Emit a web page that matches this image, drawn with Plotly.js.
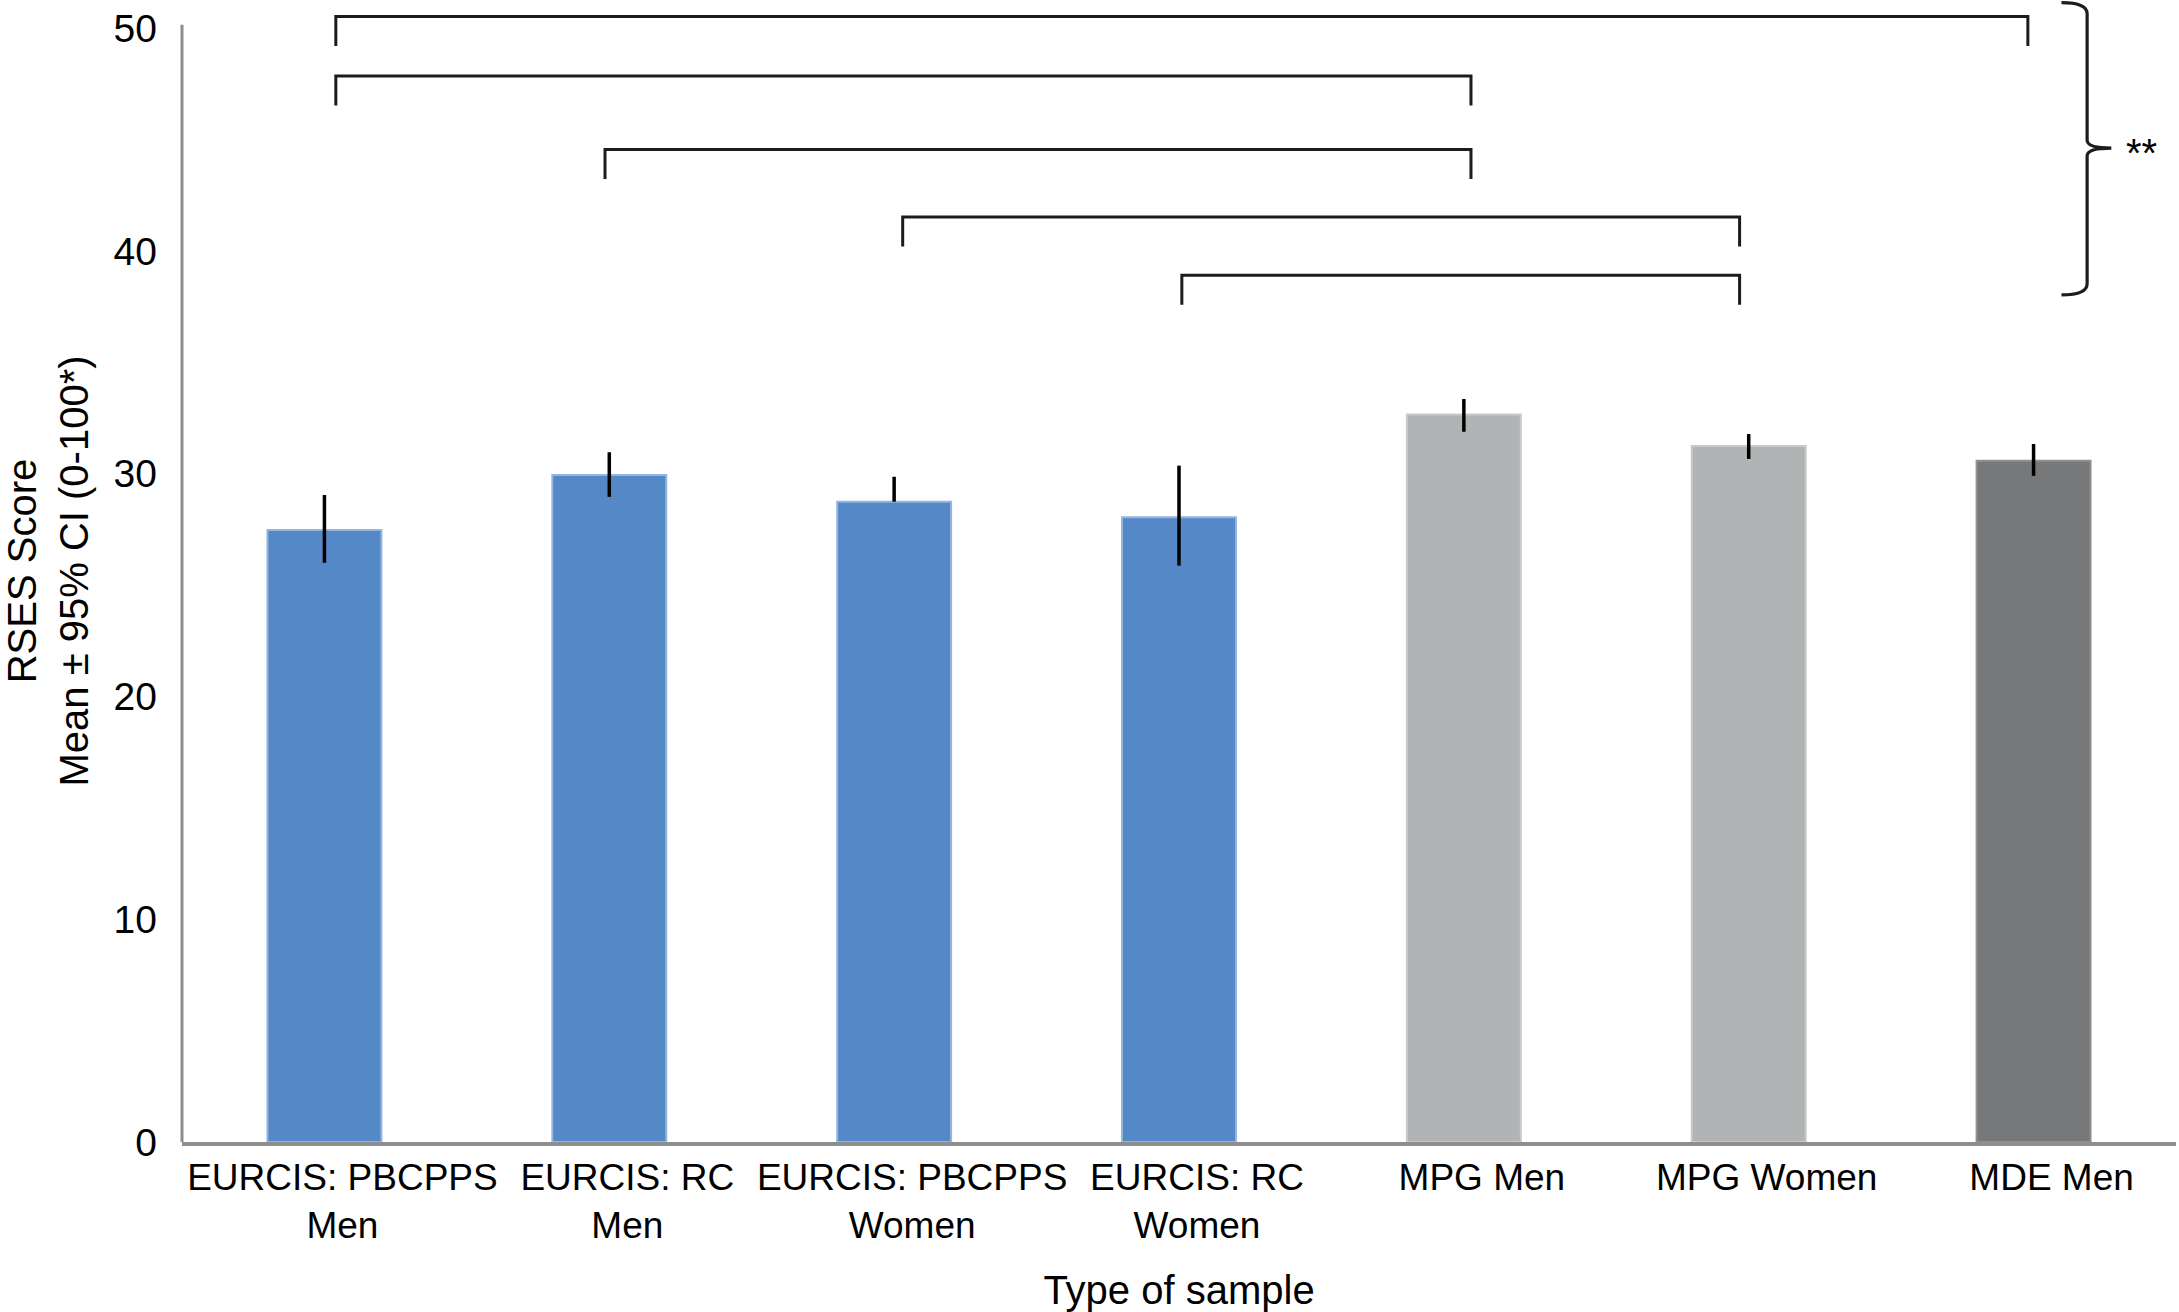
<!DOCTYPE html>
<html>
<head>
<meta charset="utf-8">
<script src="https://cdn.plot.ly/plotly-3.0.1.min.js"></script>
<style>html,body{margin:0;padding:0;background:#fff;}#chart{width:2179px;height:1312px;}</style>
</head>
<body>
<div id="chart"></div>
<script>
// ---- data ----
var categories = ['EURCIS: PBCPPS<br>Men', 'EURCIS: RC<br>Men', 'EURCIS: PBCPPS<br>Women', 'EURCIS: RC<br>Women', 'MPG Men', 'MPG Women', 'MDE Men'];
var means      = [27.47, 29.94, 28.74, 28.04, 32.66, 31.24, 30.58];
var ciPlus     = [1.57, 1.02, 1.12, 2.32, 0.69, 0.54, 0.75];
var ciMinus    = [1.47, 0.98, 0, 2.17, 0.78, 0.58, 0.68];
var yTicks     = [0, 10, 20, 30, 40, 50];
var sigPairs   = [[0, 6], [0, 4], [1, 4], [2, 5], [3, 5]];
var sigLevels  = [50.52, 47.85, 44.55, 41.52, 38.9];
var sigLabel   = '**';

// ---- styles ----
var fills = ['#5588c6', '#5588c6', '#5588c6', '#5588c6', '#b1b4b4', '#b1b4b4', '#76787a'];
var edges = ['#93b5e1', '#93b5e1', '#93b5e1', '#93b5e1', '#c8caca', '#c8caca', '#8e9091'];
var FONT = 'Liberation Sans, Arial, Helvetica, sans-serif';
// small horizontal nudges of bracket legs relative to bar centres (as drawn in the figure)
var legNudgeStart = [0.04, 0.04, -0.015, 0.03, 0.01];
var legNudgeEnd   = [-0.02, 0.025, 0.025, -0.032, -0.032];

var idx = categories.map(function (c, i) { return i; });

var trace = {
  type: 'bar',
  x: idx,
  y: means,
  width: 0.4,
  marker: { color: fills, line: { color: edges, width: 2 } },
  error_y: { type: 'data', symmetric: false, array: ciPlus, arrayminus: ciMinus, color: '#000000', thickness: 3.5, width: 0 },
  hoverinfo: 'x+y'
};

var shapes = [];
// y-axis line up to 50
shapes.push({ type: 'line', xref: 'paper', yref: 'y', x0: 0, x1: 0, y0: 0, y1: 50.15, line: { color: '#8e8e8e', width: 3 } });

// significance brackets
var legDrop = 1.32;
sigPairs.forEach(function (p, k) {
  var xa = p[0] + legNudgeStart[k], xb = p[1] + legNudgeEnd[k], yh = sigLevels[k], yl = yh - legDrop;
  shapes.push({
    type: 'path', xref: 'x', yref: 'y',
    path: 'M ' + xa + ',' + yl + ' L ' + xa + ',' + yh + ' L ' + xb + ',' + yh + ' L ' + xb + ',' + yl,
    line: { color: '#1c1c1c', width: 3 }
  });
});

// curly brace grouping all brackets
var bx = 6.188, bTop = 51.14, bBot = 38.02, bMid = 44.61, hook = 0.09, tip = 0.085;
var bracePath = 'M ' + (bx - hook) + ',' + bTop +
  ' Q ' + bx + ',' + bTop + ' ' + bx + ',' + (bTop - 0.5) +
  ' L ' + bx + ',' + (bMid + 0.35) +
  ' Q ' + bx + ',' + bMid + ' ' + (bx + tip) + ',' + bMid +
  ' Q ' + bx + ',' + bMid + ' ' + bx + ',' + (bMid - 0.35) +
  ' L ' + bx + ',' + (bBot + 0.5) +
  ' Q ' + bx + ',' + bBot + ' ' + (bx - hook) + ',' + bBot;
shapes.push({ type: 'path', xref: 'x', yref: 'y', path: bracePath, line: { color: '#1c1c1c', width: 3.2 } });

var layout = {
  width: 2179,
  height: 1312,
  margin: { l: 182, r: 3, t: 0, b: 170 },
  paper_bgcolor: '#ffffff',
  plot_bgcolor: '#ffffff',
  showlegend: false,
  bargap: 0.6,
  font: { family: FONT, color: '#000000', size: 37 },
  xaxis: {
    range: [-0.5, 6.5],
    tickmode: 'array',
    tickvals: idx,
    ticktext: categories,
    tickfont: { family: FONT, size: 37, color: '#000000' },
    ticks: '',
    ticklabelstandoff: 0,
    ticklabelshift: 18,
    showgrid: false,
    zeroline: false,
    showline: true,
    linecolor: '#8e8e8e',
    linewidth: 3.5,
    fixedrange: true,
    title: { text: 'Type of sample', font: { family: FONT, size: 40, color: '#000000' }, standoff: 36 }
  },
  yaxis: {
    range: [0, 51.26],
    tickmode: 'array',
    tickvals: yTicks,
    tickfont: { family: FONT, size: 39, color: '#000000' },
    ticks: '',
    ticklabelstandoff: 24,
    showgrid: false,
    zeroline: false,
    showline: false,
    fixedrange: true,
    title: { text: 'RSES Score<br>Mean ± 95% CI (0-100*)', font: { family: FONT, size: 40, color: '#000000' }, standoff: 14 }
  },
  shapes: shapes,
  annotations: [{
    xref: 'x', yref: 'y', x: 6.38, y: 44.4, text: sigLabel, showarrow: false,
    xanchor: 'center', yanchor: 'middle', font: { family: FONT, size: 40, color: '#000000' }
  }]
};

Plotly.newPlot('chart', [trace], layout, { displayModeBar: false, staticPlot: true });
</script>
</body>
</html>
